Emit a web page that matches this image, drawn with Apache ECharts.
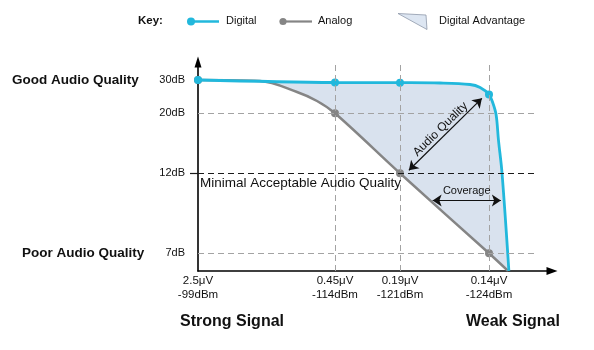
<!DOCTYPE html>
<html>
<head>
<meta charset="utf-8">
<script src="https://cdn.jsdelivr.net/npm/echarts@6/dist/echarts.min.js"></script>
<style>
  html, body { margin: 0; padding: 0; background: #fff; }
  #chart { width: 594px; height: 350px; }
</style>
</head>
<body>
<div id="chart"></div>
<script>
// Signal level ticks (dBm) and the matching receiver input voltage
const xTicksDbm = [-99, -114, -121, -124];
const xTicksUv = ['2.5', '0.45', '0.19', '0.14'];
// Audio quality ticks (dB)
const yTicksDb = [7, 12, 20, 30];
const minAcceptableDb = 12;

// Digital receiver: audio quality vs signal level
const digitalDbm = [-99, -114, -121, -122.35, -123.36, -123.7, -124, -124.13, -124.24, -124.32, -124.44, -124.67];
const digitalDb  = [30, 29.25, 29.2, 29.1, 28.65, 27.75, 25.65, 23.1, 19.8, 16.4, 12, 5.9];

// Analog receiver: audio quality vs signal level
const analogDbm = [-99, -105.79, -109.84, -112.03, -114, -121, -124, -124.64];
const analogDb  = [30, 29.7, 26.4, 23.7, 20, 12, 7, 5.9];

// The axes are schematic (not linear): each scale is a set of stops
// giving the distance along the axis (px from the origin) for a value.
const xStops = [[-99, 0], [-114, 137], [-121, 202], [-124, 291]];
const yStops = [[7, 17.7], [12, 97.7], [20, 157.7], [30, 191]];

function piecewise(stops, v) {
  const n = stops.length;
  const dir = Math.sign(stops[n - 1][0] - stops[0][0]);
  let i = 0;
  while (i < n - 2 && v * dir > stops[i + 1][0] * dir) i++;
  const a = stops[i], b = stops[i + 1];
  return a[1] + (v - a[0]) * (b[1] - a[1]) / (b[0] - a[0]);
}
const mapX = v => piecewise(xStops, v);
const mapY = v => piecewise(yStops, v);

const FONT = "'Liberation Sans', Arial, Helvetica, sans-serif";
const DIGITAL = '#22b8dc';
const ANALOG = '#858585';
const FILL = '#d9e2ee';
const SMOOTH = 0.35;

const xTickPos = xTicksDbm.map(mapX);
const yTickPos = yTicksDb.map(mapY);

function pts(xs, ys) {
  return xs.map((x, i) => {
    const onTick = xTicksDbm.indexOf(x) >= 0;
    return { value: [mapX(x), mapY(ys[i])], symbol: onTick ? 'circle' : 'none' };
  });
}
const digitalPts = pts(digitalDbm, digitalDb);
const analogPts = pts(analogDbm, analogDb);

function nearestLabel(positions, labels, v) {
  let best = 0;
  positions.forEach((p, i) => { if (Math.abs(p - v) < Math.abs(positions[best] - v)) best = i; });
  return labels[best];
}
const xLabels = xTicksDbm.map((d, i) => xTicksUv[i] + 'μV\n' + d + 'dBm');
const yLabels = yTicksDb.map(d => d + 'dB');

// Grid guide lines (value coordinates converted via the axis scales)
const gridTop = 34.5;     // dB, top of the vertical guides
const gridRight = -125.6; // dBm, right end of the horizontal guides
const guideStyle = { color: '#a3a3a3', type: [6, 4], width: 1 };
const guides = [];
[-114, -121, -124].forEach(d => {
  guides.push([{ coord: [mapX(d), mapY(gridTop)], lineStyle: guideStyle }, { coord: [mapX(d), 0] }]);
});
[20, 7].forEach(d => {
  guides.push([{ coord: [0, mapY(d)], lineStyle: guideStyle }, { coord: [mapX(gridRight), mapY(d)] }]);
});
guides.push([
  { coord: [0, mapY(minAcceptableDb)], lineStyle: { color: '#1a1a1a', type: [6, 4], width: 1.2 } },
  { coord: [mapX(gridRight), mapY(minAcceptableDb)] }
]);

// Annotation arrows
const arrows = [
  [
    { coord: [mapX(-121.3), mapY(12.4)],
      label: { show: true, position: 'middle', formatter: 'Audio Quality', fontSize: 12, distance: 1, color: '#111', fontFamily: FONT } },
    { coord: [mapX(-123.76), mapY(24.5)] }
  ],
  [
    { coord: [mapX(-122.1), mapY(10.3)],
      label: { show: true, position: 'middle', formatter: 'Coverage', fontSize: 11, distance: 4, color: '#111', fontFamily: FONT } },
    { coord: [mapX(-124.4), mapY(10.3)] }
  ]
];

const chart = echarts.init(document.getElementById('chart'), null, { renderer: 'canvas' });

const axisLineStyle = { color: '#000', width: 1.6 };

chart.setOption({
  animation: false,
  backgroundColor: '#fff',
  grid: { left: 198, right: 42, top: 62, bottom: 79 },
  xAxis: {
    type: 'value', min: 0, max: 354, z: 2,
    axisLine: { show: true, onZero: false, lineStyle: axisLineStyle, symbol: ['none', 'triangle'], symbolSize: [8, 11] },
    axisTick: { show: false },
    splitLine: { show: false },
    axisLabel: {
      customValues: xTickPos,
      formatter: v => nearestLabel(xTickPos, xLabels, v),
      fontSize: 11.5, lineHeight: 14, margin: 3, color: '#111', fontFamily: FONT
    }
  },
  yAxis: {
    type: 'value', min: 0, max: 209, z: 2,
    axisLine: { show: true, onZero: false, lineStyle: axisLineStyle, symbol: ['none', 'triangle'], symbolSize: [7, 11] },
    axisTick: {
      show: true, customValues: [mapY(minAcceptableDb)], length: 8,
      lineStyle: { color: '#1a1a1a', width: 1.2 }
    },
    splitLine: { show: false },
    axisLabel: {
      customValues: yTickPos,
      formatter: v => nearestLabel(yTickPos, yLabels, v),
      fontSize: 11, margin: 13, color: '#111', fontFamily: FONT
    }
  },
  series: [
    { // digital advantage fill (under the digital curve)
      type: 'line', z: 1, data: digitalPts, smooth: SMOOTH,
      showSymbol: false, lineStyle: { width: 0 }, areaStyle: { color: FILL, opacity: 1 }, silent: true
    },
    { // blank out below the analog curve
      type: 'line', z: 1, data: analogPts, smooth: SMOOTH,
      showSymbol: false, lineStyle: { width: 0 }, areaStyle: { color: '#fff', opacity: 1 }, silent: true
    },
    { // guide lines
      type: 'line', z: 2, data: [], silent: true,
      markLine: { silent: true, symbol: 'none', label: { show: false }, data: guides, animation: false }
    },
    {
      name: 'Analog', type: 'line', z: 3, data: analogPts, smooth: SMOOTH,
      symbolSize: 8, itemStyle: { color: ANALOG }, lineStyle: { color: ANALOG, width: 2.5 }
    },
    {
      name: 'Digital', type: 'line', z: 4, data: digitalPts, smooth: SMOOTH,
      symbolSize: 8, itemStyle: { color: DIGITAL }, lineStyle: { color: DIGITAL, width: 2.8 }
    },
    { // annotation arrows
      type: 'line', z: 5, data: [], silent: true,
      markLine: {
        silent: true, symbol: ['arrow', 'arrow'], symbolSize: 9,
        lineStyle: { color: '#111', type: 'solid', width: 1.2 },
        data: arrows, animation: false
      }
    }
  ],
  graphic: [
    { type: 'text', z: 10, left: 12, top: 73, style: { text: 'Good Audio Quality', font: 'bold 13.5px ' + FONT, fill: '#111' } },
    { type: 'text', z: 10, left: 22, top: 246, style: { text: 'Poor Audio Quality', font: 'bold 13.5px ' + FONT, fill: '#111' } },
    { type: 'text', z: 10, left: 200, top: 176, style: { text: 'Minimal Acceptable Audio Quality', font: '13.5px ' + FONT, fill: '#111' } },
    { type: 'text', z: 10, left: 180, top: 314, style: { text: 'Strong Signal', font: 'bold 16px ' + FONT, fill: '#111' } },
    { type: 'text', z: 10, left: 466, top: 314, style: { text: 'Weak Signal', font: 'bold 16px ' + FONT, fill: '#111' } },
    // key
    { type: 'text', z: 10, left: 138, top: 15, style: { text: 'Key:', font: 'bold 11.5px ' + FONT, fill: '#111' } },
    { type: 'line', z: 10, shape: { x1: 191, y1: 21.5, x2: 219, y2: 21.5 }, style: { stroke: DIGITAL, lineWidth: 2.5 } },
    { type: 'circle', z: 10, shape: { cx: 191, cy: 21.5, r: 4 }, style: { fill: DIGITAL } },
    { type: 'text', z: 10, left: 226, top: 15, style: { text: 'Digital', font: '11px ' + FONT, fill: '#111' } },
    { type: 'line', z: 10, shape: { x1: 283, y1: 21.5, x2: 312, y2: 21.5 }, style: { stroke: ANALOG, lineWidth: 2.2 } },
    { type: 'circle', z: 10, shape: { cx: 283, cy: 21.5, r: 3.6 }, style: { fill: ANALOG } },
    { type: 'text', z: 10, left: 318, top: 15, style: { text: 'Analog', font: '11px ' + FONT, fill: '#111' } },
    { type: 'polygon', z: 10, shape: { points: [[398, 13.5], [426, 15], [427, 29.5]] }, style: { fill: '#dde6f2', stroke: '#8e98aa', lineWidth: 0.8 } },
    { type: 'text', z: 10, left: 439, top: 15, style: { text: 'Digital Advantage', font: '11px ' + FONT, fill: '#111' } }
  ]
});
</script>
</body>
</html>
